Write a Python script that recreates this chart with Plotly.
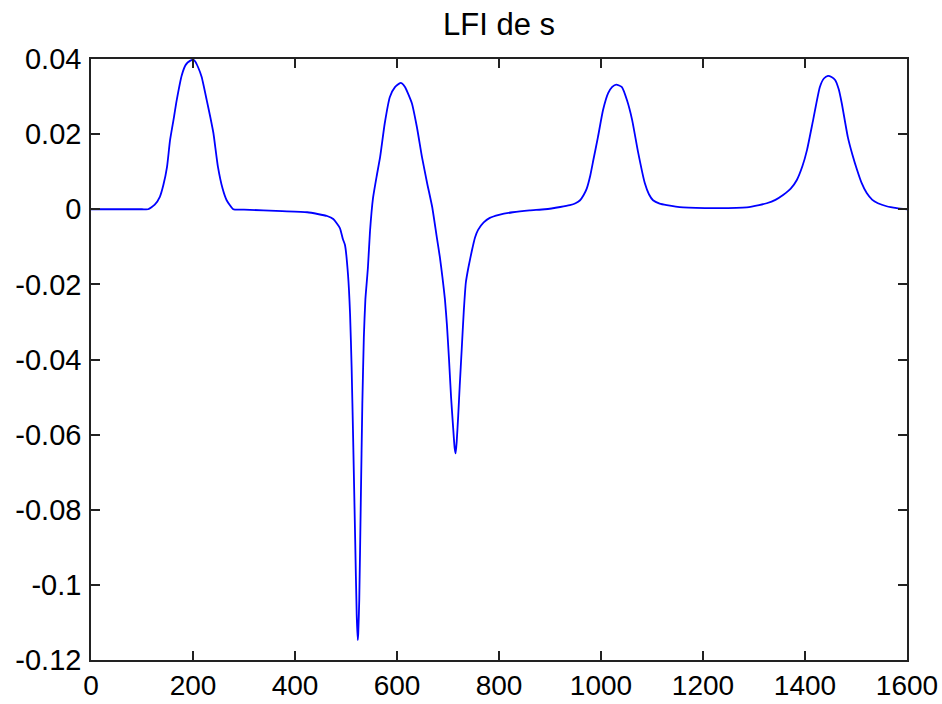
import plotly.graph_objects as go

# ---- data ----
x_vals = [0, 100, 112, 125, 135, 142, 149, 155, 162, 168, 178, 186, 194, 200, 204,
          210, 217, 227, 234, 240, 249, 258, 266, 279, 300, 375, 424, 463, 475, 488,
          494, 498, 504, 508, 511, 514, 518, 521, 523, 524, 526, 529, 532, 535, 538,
          543, 547, 553, 560, 567, 576, 586, 596, 606, 610, 616, 629, 639, 649, 659,
          669, 678, 684, 689, 694, 698, 702, 706, 710, 713, 715, 717, 720, 723, 727,
          731, 735, 740, 747, 753, 759, 770, 782, 800, 827, 860, 890, 920, 939, 950,
          959, 966, 972, 979, 985, 994, 1004, 1014, 1022, 1030, 1041, 1051, 1061, 1073, 1086,
          1094, 1102, 1115, 1129, 1161, 1230, 1286, 1310, 1325, 1342, 1357, 1372, 1384, 1395, 1404,
          1416, 1429, 1437, 1445, 1452, 1459, 1466, 1472, 1484, 1493, 1502, 1511, 1521, 1532, 1543,
          1560, 1580, 1600]
y_vals = [0.0, 0.0, 0.0, 0.0012, 0.0033, 0.0065, 0.0112, 0.0184, 0.0240, 0.0290, 0.0357, 0.0385, 0.0395, 0.0398, 0.0394,
          0.0378, 0.0352, 0.0290, 0.0245, 0.0203, 0.0112, 0.0055, 0.0024, 0.0, -0.0001, -0.0005, -0.0008, -0.0018, -0.0026, -0.0050,
          -0.0080, -0.0095, -0.0175, -0.0280, -0.0420, -0.0610, -0.0880, -0.1080, -0.1147, -0.1130, -0.1040, -0.0780, -0.0520, -0.0340, -0.0240,
          -0.0155, -0.0060, 0.0030, 0.0087, 0.0140, 0.0229, 0.0299, 0.0325, 0.0336, 0.0335, 0.0325, 0.0283, 0.0219, 0.0139, 0.0070,
          0.0006, -0.0074, -0.0127, -0.0180, -0.0240, -0.0310, -0.0400, -0.0500, -0.0580, -0.0635, -0.0650, -0.0620, -0.0550, -0.0470, -0.0370,
          -0.0270, -0.0195, -0.0155, -0.0109, -0.0075, -0.0055, -0.0035, -0.0023, -0.0015, -0.0008, -0.0003, 0.0, 0.0006, 0.0011, 0.0016,
          0.0024, 0.0038, 0.0055, 0.0090, 0.0131, 0.0192, 0.0264, 0.0309, 0.0326, 0.0332, 0.0325, 0.0290, 0.0238, 0.0150, 0.0069,
          0.0040, 0.0024, 0.0015, 0.0011, 0.0005, 0.0003, 0.0005, 0.0011, 0.0016, 0.0025, 0.0038, 0.0055, 0.0078, 0.0115, 0.0158,
          0.0238, 0.0325, 0.0348, 0.0355, 0.0352, 0.0344, 0.0320, 0.0283, 0.0192, 0.0145, 0.0105, 0.0070, 0.0043, 0.0025, 0.0016,
          0.0008, 0.0003, 0.0]

x_ticks = [0, 200, 400, 600, 800, 1000, 1200, 1400, 1600]
x_tick_text = ["0", "200", "400", "600", "800", "1000", "1200", "1400", "1600"]
y_ticks = [0.04, 0.02, 0.0, -0.02, -0.04, -0.06, -0.08, -0.1, -0.12]
y_tick_text = ["0.04", "0.02", "0", "-0.02", "-0.04", "-0.06", "-0.08", "-0.1", "-0.12"]

title_text = "LFI de s"

fig = go.Figure()
fig.add_trace(go.Scatter(x=x_vals, y=y_vals, mode="lines",
                         line=dict(color="#0000ff", width=1.8, shape="spline", smoothing=0.5),
                         showlegend=False, hoverinfo="skip"))

axis_common = dict(showgrid=False, zeroline=False, showline=True, automargin=False,
                   linecolor="#222222", linewidth=1.5, mirror="ticks",
                   ticks="inside", ticklen=9, tickwidth=1.5, tickcolor="#222222")

fig.update_layout(
    width=942, height=704,
    margin=dict(l=91, r=35, t=59, b=44, autoexpand=False),
    paper_bgcolor="white", plot_bgcolor="white",
    title=dict(text=title_text, x=0.5, xref="paper", xanchor="center",
               y=1 - 24 / 704, yanchor="middle", yref="container", automargin=False,
               font=dict(family="Liberation Sans, Arial, sans-serif", size=31, color="black")),
    xaxis=dict(range=[0, 1600], tickvals=x_ticks, ticktext=x_tick_text,
               ticklabelstandoff=0,
               tickfont=dict(family="Liberation Sans, Arial, sans-serif", size=28, color="black"),
               **axis_common),
    yaxis=dict(range=[-0.12, 0.04], tickvals=y_ticks, ticktext=y_tick_text,
               ticklabelstandoff=2,
               tickfont=dict(family="Liberation Sans, Arial, sans-serif", size=29, color="black"),
               **axis_common),
)

fig.write_html("out.html")
